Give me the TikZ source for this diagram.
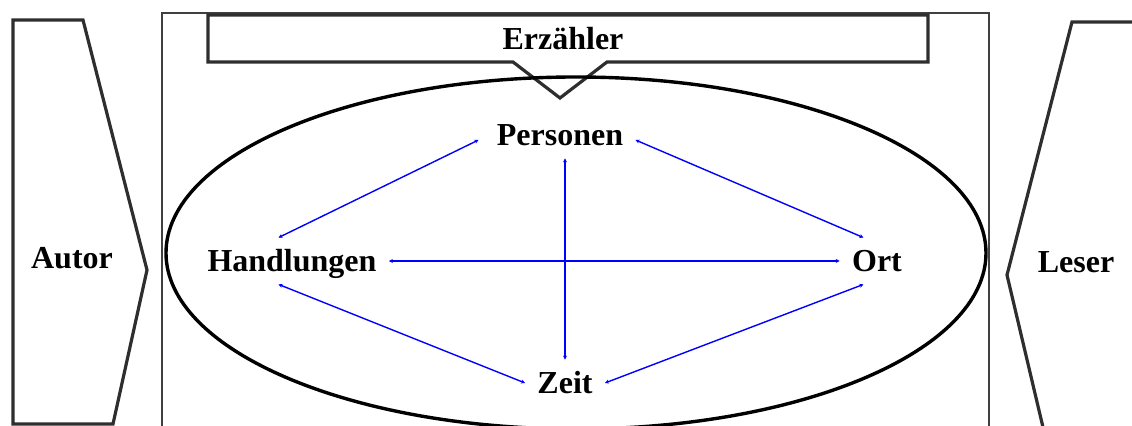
\documentclass[tikz,border=0pt]{standalone}
\usepackage{fontspec}
\setmainfont{Liberation Serif}
\usetikzlibrary{arrows.meta}
\definecolor{linkblue}{HTML}{0000FF}
\definecolor{shapegray}{HTML}{2E2E2E}
\definecolor{framegray}{HTML}{404040}
\tikzset{
  term/.style={
    font=\fontsize{16}{19}\selectfont\bfseries,
    inner sep=6pt, text height=11pt, text depth=0pt
  },
  sideshape/.style={draw=shapegray, line width=1.6pt, line join=miter},
  link/.style={
    {Stealth[length=2pt,width=2pt]}-{Stealth[length=2pt,width=2pt]},
    draw=linkblue, line width=0.7pt
  }
}

\begin{document}
\begin{tikzpicture}[x=0.5pt, y=-0.5pt]
  \useasboundingbox (0,0) rectangle (1132,426);
  \begin{scope}
    \clip (0,0) rectangle (1132,426);
    % outer frame
    \draw[draw=framegray, line width=0.6pt] (162,13) rectangle (989,440);
    % Autor / Leser pointers
    \draw[sideshape] (13,20) -- (83,20) -- (147,270) -- (113,424)
      -- (13,424) -- cycle;
    \draw[sideshape] (1145,22) -- (1072,22) -- (1007,275) -- (1046,440);
    % Erzaehler callout
    \draw[sideshape] (208,15) -- (928,15) -- (928,62) -- (607,62)
      -- (560,98) -- (513,62) -- (208,62) -- cycle;
    % story world
    \draw[black, line width=1.7pt] (576,253) ellipse (410 and 176);
  \end{scope}

  \node[term] (autor) at (72,258) {Autor};
  \node[term] (leser) at (1076,262) {Leser};
  \node[term] (erz) at (563,39) {Erzähler};

  \node[term] (pers) at (560,135) {Personen};
  \node[term] (hand) at (292,261) {Handlungen};
  \node[term] (ort) at (877,261) {Ort};
  \node[term] (zeit) at (565,383) {Zeit};

  \draw[link] ([xshift=-3pt,yshift=-2.5pt]pers.west) -- (hand.120);
  \draw[link] ([yshift=-2.5pt]pers.east) -- (ort.120);
  \draw[link] (zeit.north |- pers.south) -- (zeit.north);
  \draw[link] (hand.east) -- (ort.west);
  \draw[link] (hand.240) -- (zeit.west);
  \draw[link] (zeit.east) -- (ort.240);
\end{tikzpicture}
\end{document}
